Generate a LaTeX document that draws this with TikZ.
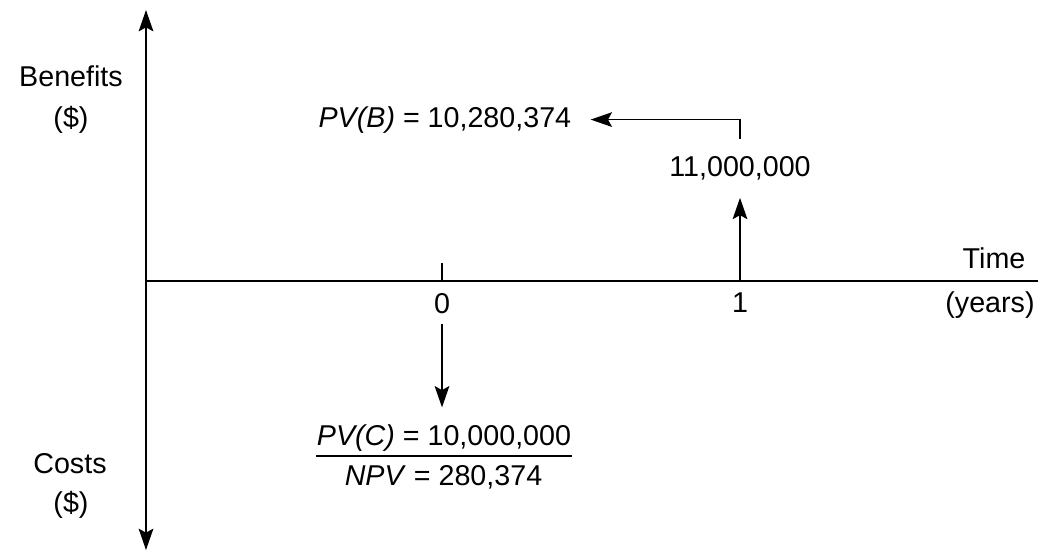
\documentclass[tikz,border=0pt]{standalone}
\usepackage{fontspec}
\setmainfont{Liberation Sans}
\usetikzlibrary{arrows.meta}

\tikzset{
  lbl/.style={inner sep=0pt, anchor=base, font=\fontsize{21.5}{25}\selectfont},
  flow/.style={-{Stealth[length=16pt,width=11pt,inset=3pt]}},
}

\begin{document}
\begin{tikzpicture}[x=0.75pt, y=-0.75pt, line width=1.2pt]
      \useasboundingbox (0,0) rectangle (1041,551);

      % axes
      \coordinate (origin) at (146,281);
      \coordinate (top) at (146,10);
      \coordinate (bottom) at (146,550);
      \coordinate (tend) at (1038,281);
      \coordinate (t0) at (442,281);
      \coordinate (t0up) at (442,263);
      \coordinate (t1) at (740,281);

      \draw[flow] (origin) -- (top);
      \draw[flow] (origin) -- (bottom);
      \draw (origin) -- (tend);
      \draw (t0) -- (t0up);

      \node[lbl] (benefits) at (71,86) {Benefits};
      \node[lbl] (bdollar) at (71,127) {(\$)};
      \node[lbl] (costs) at (70,473) {Costs};
      \node[lbl] (cdollar) at (71,512) {(\$)};

      \node[lbl] (zero) at (442,313) {0};
      \node[lbl] (one) at (740,312) {1};
      \node[lbl] (time) at (994,268) {Time};
      \node[lbl] (years) at (990,312) {(years)};

      % benefits side
      \node[lbl] (fv) at (740,176) {11,000,000};
      \node[lbl, anchor=base east] (pvb) at (572,127) {\textit{PV(B)} = 10,280,374};

      \draw[flow, shorten >=13pt] (t1) -- (fv.south);
      \draw[flow, line width=1pt, shorten <=12.4pt, shorten >=14pt] (fv.north) |- (pvb.east);

      % costs side
      \node[lbl] (pvc) at (444,445) {\textit{PV(C)} = 10,000,000};
      \node[lbl] (npv) at (443.5,485) {\textit{NPV} = 280,374};

      \draw[flow, shorten <=7.5pt, shorten >=12pt] (zero.south) -- (zero.south |- pvc.north);
      \draw ([yshift=-3pt]pvc.south west) -- ([yshift=-3pt]pvc.south east);

    \end{tikzpicture}
\end{document}
